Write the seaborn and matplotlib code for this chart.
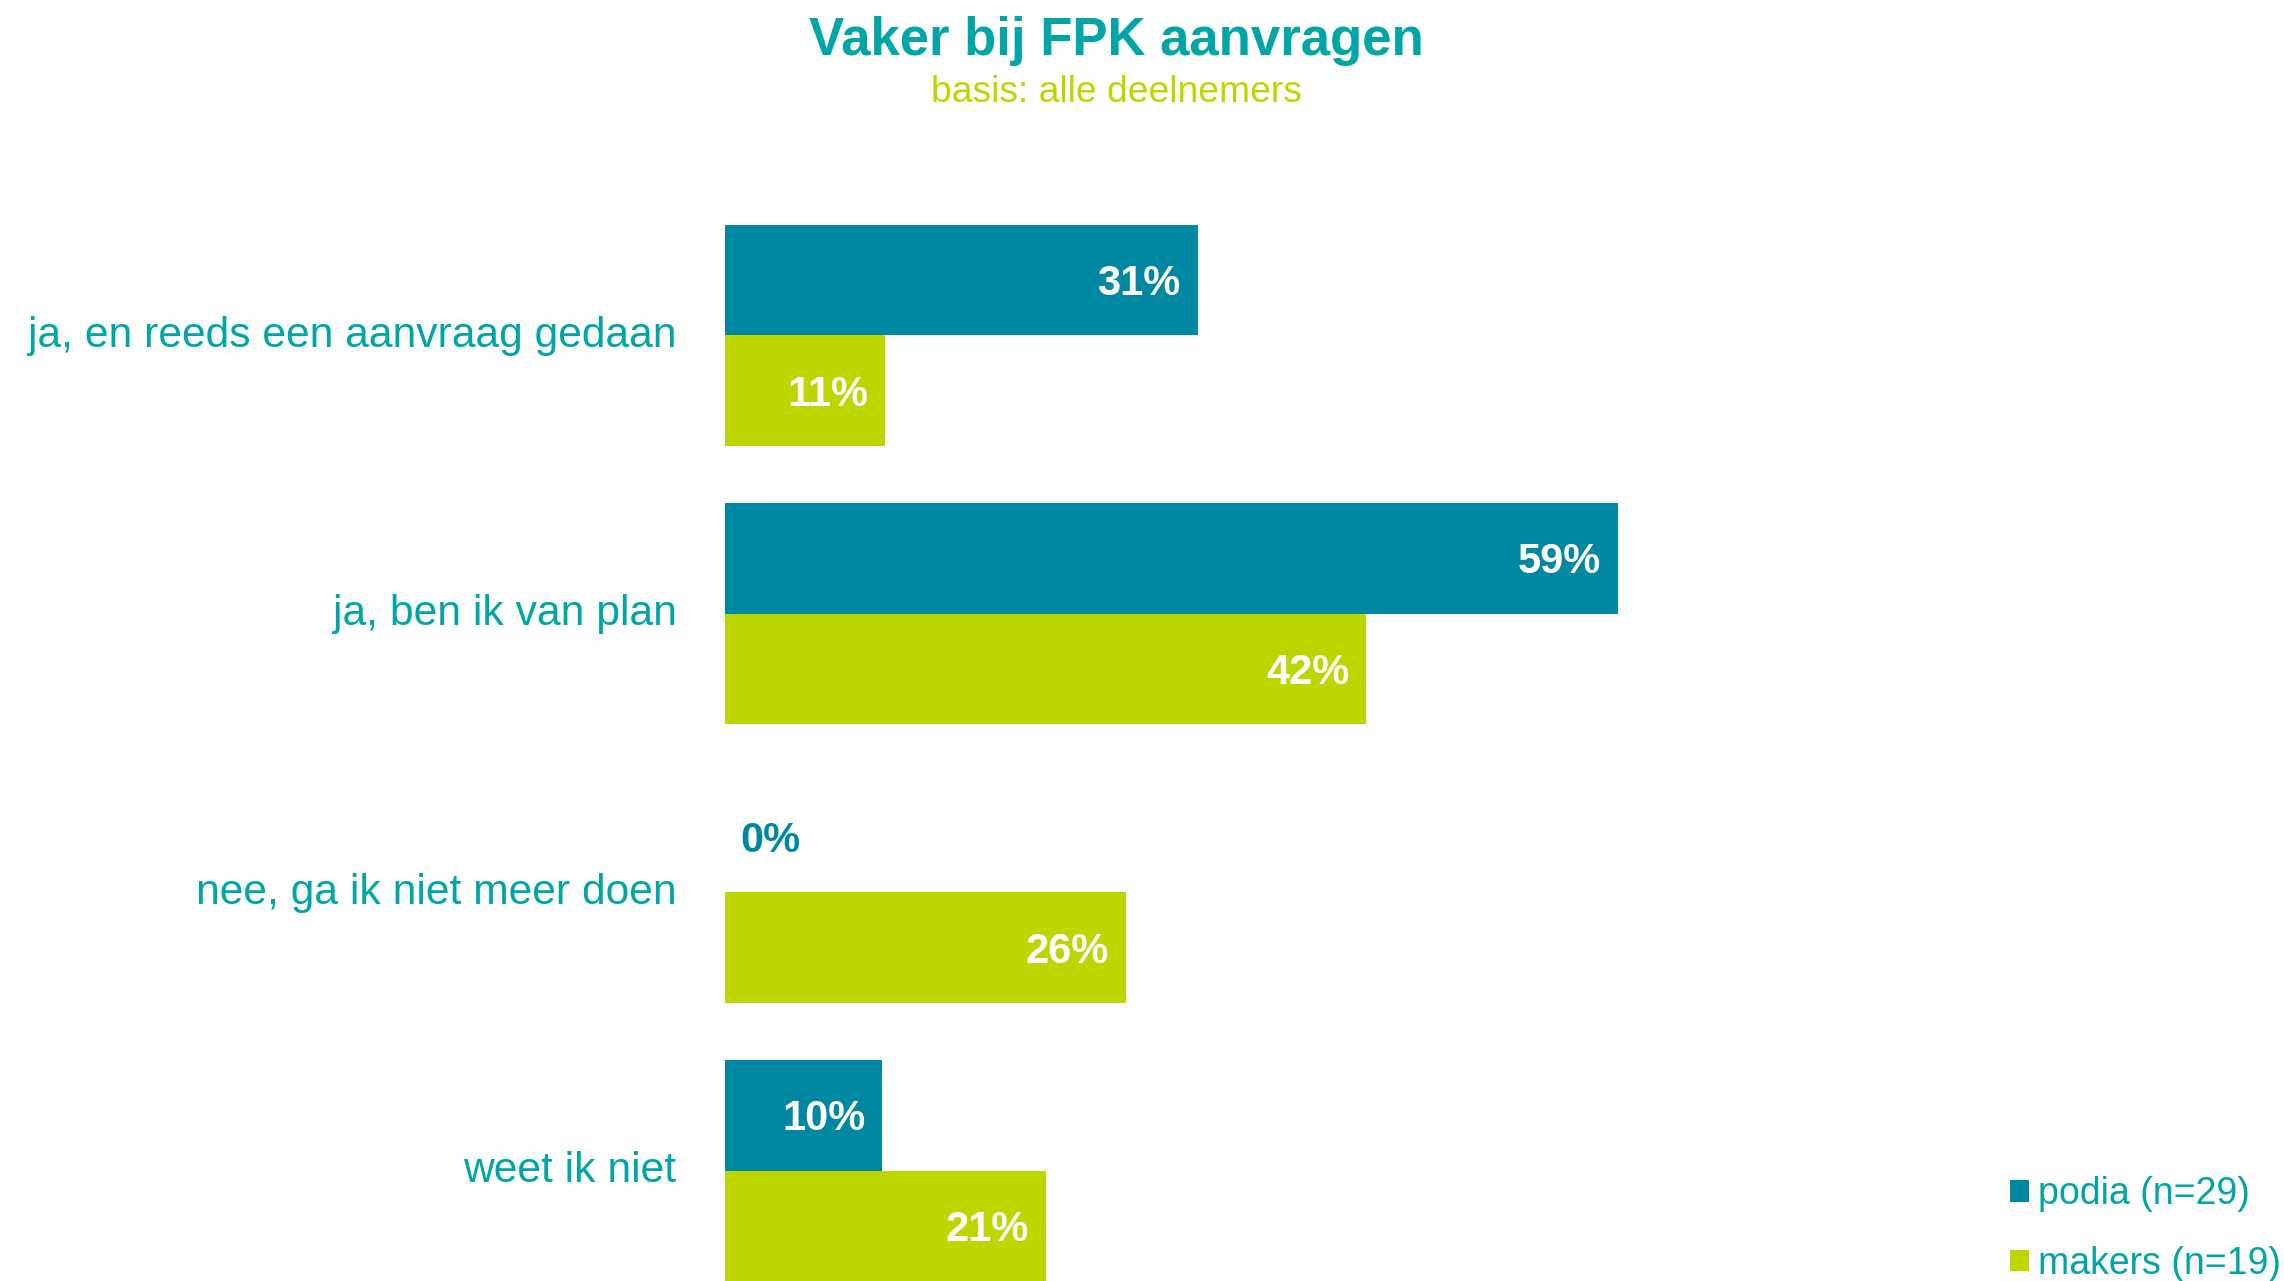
import matplotlib
matplotlib.use("Agg")
import matplotlib.pyplot as plt
import matplotlib.transforms as mtransforms
import seaborn as sns
import pandas as pd

categories = ["ja, en reeds een aanvraag gedaan", "ja, ben ik van plan",
              "nee, ga ik niet meer doen", "weet ik niet"]
series_names = ["podia (n=29)", "makers (n=19)"]
podia = [31.03, 58.62, 0.0, 10.34]
makers = [10.53, 42.11, 26.32, 21.05]

teal_bar = "#0088A2"
green = "#BED600"
teal_text = "#00A6A6"

df = pd.DataFrame({
    "categorie": categories * 2,
    "waarde": podia + makers,
    "groep": [series_names[0]] * 4 + [series_names[1]] * 4,
})

sns.set_theme(style="white")
plt.rcParams["font.family"] = ["Liberation Sans", "DejaVu Sans"]

W, H = 2284, 1281
fig = plt.figure(figsize=(W / 100, H / 100), dpi=100)
left, right = 725, 2248
top, bottom = 196, 1310
ax = fig.add_axes([left / W, 1 - bottom / H, (right - left) / W, (bottom - top) / H])

sns.barplot(data=df, y="categorie", x="waarde", hue="groep", orient="h",
            palette=[teal_bar, green], saturation=1, width=0.795, gap=0,
            ax=ax, legend=True, order=categories, hue_order=series_names,
            linewidth=0, edgecolor="none")

ax.set_xlim(0, 100)
ax.set_ylim(3.5, -0.5)
for s in ax.spines.values():
    s.set_visible(False)
ax.set_xticks([])
ax.set_xlabel("")
ax.set_ylabel("")
ax.tick_params(axis="y", length=0, pad=35, labelsize=30.7, labelcolor=teal_text)
shift = mtransforms.ScaledTranslation(0, 4 / 100, fig.dpi_scale_trans)
for lab in ax.get_yticklabels():
    lab.set_transform(lab.get_transform() + shift)

for container, vals, col in zip(ax.containers, [podia, makers], [teal_bar, green]):
    for patch, v in zip(container, vals):
        yc = patch.get_y() + patch.get_height() / 2
        lab = f"{v:.0f}%"
        if v > 0:
            ax.annotate(lab, xy=(patch.get_width(), yc), xytext=(-17, -4),
                        textcoords="offset pixels", ha="right", va="center",
                        color="white", fontweight="bold", fontsize=30)
        else:
            ax.annotate(lab, xy=(patch.get_width(), yc), xytext=(15, -4),
                        textcoords="offset pixels", ha="left", va="center",
                        color=col, fontweight="bold", fontsize=30)

handles, labels = ax.get_legend_handles_labels()
ax.legend(handles, labels, loc="center left", bbox_to_anchor=(2010 / W, 1 - 1229 / H),
          bbox_transform=fig.transFigure, frameon=False, fontsize=27,
          handlelength=0.5, handleheight=0.5, handletextpad=0.25,
          labelspacing=0.9, borderpad=0, borderaxespad=0, labelcolor=teal_text)

fig.text(1116 / W, 1 - 41 / H, "Vaker bij FPK aanvragen", ha="center", va="center",
         fontsize=38, fontweight="bold", color=teal_text)
fig.text(1116 / W, 1 - 93 / H, "basis: alle deelnemers", ha="center", va="center",
         fontsize=26.8, color=green)

fig.savefig("out.png", dpi=100)
